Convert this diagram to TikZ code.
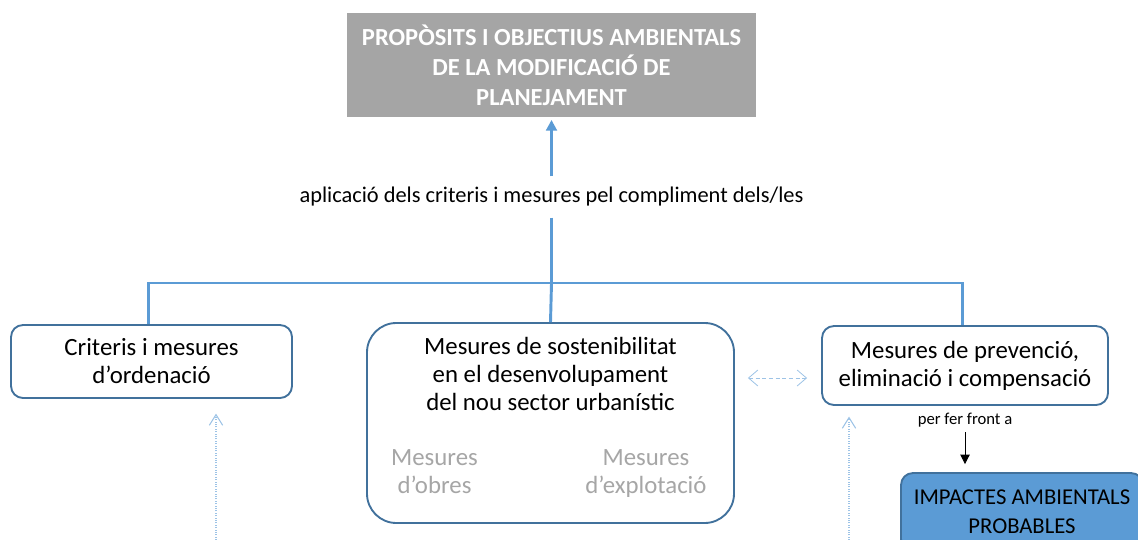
\documentclass[tikz,border=0pt]{standalone}
\usepackage{fontspec}
\setmainfont{Carlito}
\usetikzlibrary{arrows.meta,positioning,calc}
\definecolor{linkblue}{HTML}{5B9BD5}
\definecolor{edgeblue}{HTML}{41719C}
\definecolor{headgray}{HTML}{A5A5A5}
\definecolor{softblue}{HTML}{9DC3E6}
\definecolor{subgray}{HTML}{A6A6A6}

\begin{document}
\begin{tikzpicture}[
  x=0.75pt, y=-0.75pt,
  font=\fontsize{18.6pt}{21pt}\selectfont,
  treeline/.style={draw=linkblue, line width=2.2pt},
  treearrow/.style={treeline, -{Triangle[length=8pt,width=8pt]}},
  softarrow/.style={draw=softblue, line width=0.6pt, densely dashed,
    {Straight Barb[length=7pt,width=12pt]}-{Straight Barb[length=7pt,width=12pt]}},
  feedarrow/.style={draw=softblue, line width=0.8pt, densely dotted,
    -{Straight Barb[length=8pt,width=10pt]}},
  headbox/.style={fill=headgray, text=white, align=center, inner sep=0pt,
    font=\fontsize{18.4pt}{22.5pt}\selectfont\bfseries,
    minimum width=306.75pt, minimum height=78pt},
  measbox/.style={draw=edgeblue, fill=white, line width=1.4pt, rounded corners=9pt,
    align=center, inner sep=0pt},
  subtext/.style={text=subgray, align=center, inner sep=0pt, anchor=north},
  impactbox/.style={draw=edgeblue, fill=linkblue, line width=1.4pt, rounded corners=9pt,
    align=center, inner sep=0pt, minimum width=181.5pt, minimum height=58.5pt,
    font=\fontsize{17pt}{21.75pt}\selectfont}
]
\useasboundingbox (0,0) rectangle (1138,539);
\clip (0,0) rectangle (1138,539);

% Top node: environmental goals
\node[headbox] (goals) at (551.5,65) {PROPÒSITS I OBJECTIUS AMBIENTALS\\DE LA MODIFICACIÓ DE\\PLANEJAMENT};

% Label on the main trunk
\node[inner xsep=0pt, inner ysep=8pt, font=\fontsize{16.8pt}{18pt}\selectfont] (apply) at (551.5,197)
  {aplicació dels criteris i mesures pel compliment dels/les};

% Three groups of measures
\node[measbox, minimum width=210.75pt, minimum height=54.75pt] (ordering) at (151.5,361.5)
  {Criteris i mesures\\d’ordenació};
\node[measbox, rounded corners=22pt, minimum width=275.25pt, minimum height=150pt] (sustain) at (550.5,423) {};
\node[measbox, minimum width=214.5pt, minimum height=59.25pt] (prevent) at (965,365.5)
  {Mesures de prevenció,\\eliminació i compensació};

% Texts inside the sustainability box
\node[align=center, inner sep=0pt] (sustitle) at ([yshift=-39pt]sustain.north)
  {Mesures de sostenibilitat\\en el desenvolupament\\del nou sector urbanístic};
\node[subtext] (works) at ([xshift=-87pt,yshift=-20pt]sustain.center) {Mesures\\d’obres};
\node[subtext] (running) at ([xshift=71.6pt,yshift=-20pt]sustain.center) {Mesures\\d’explotació};

% Impacts
\node[font=\fontsize{12.5pt}{14pt}\selectfont, below=2pt of prevent] (against) {per fer front a};
\node[impactbox] (impacts) at (1022,512) {IMPACTES AMBIENTALS\\PROBABLES};

% Tree connectors
\coordinate (junction) at (apply.south |- 0,283);
\draw[treearrow, shorten >=2pt] (apply.north) -- (goals.south);
\draw[treeline] (apply.south) -- (junction);
\draw[treeline] ([xshift=-2.6pt]ordering.north) |- (junction) -| ([xshift=-2.2pt]prevent.north);
\draw[treeline] (junction) -- (sustain.north);

% Links between measures
\draw[softarrow] ([shift={(13,12.5)}]sustain.east |- prevent.west) -- ([shift={(-14,12.5)}]prevent.west);
\draw[-{Triangle[length=7pt,width=7pt]}, line width=0.6pt, shorten >=6pt] (against.south) -- (impacts.north -| against.south);

% Incoming feeds from below
\coordinate (feedA) at (216,545);
\coordinate (feedB) at (849,545);
\draw[feedarrow, shorten >=11pt] (feedA) -- (feedA |- ordering.south);
\draw[feedarrow, shorten >=8pt] (feedB) -- (feedB |- prevent.south);

\end{tikzpicture}
\end{document}
